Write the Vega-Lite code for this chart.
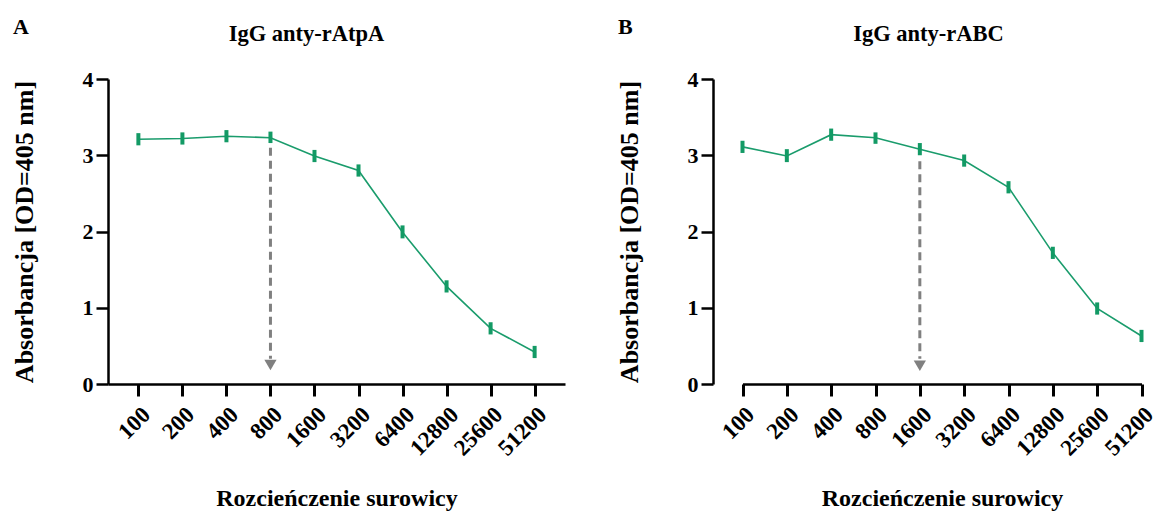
{
  "$schema": "https://vega.github.io/schema/vega-lite/v6.json",
  "padding": {"left": 10, "top": 15, "right": 0, "bottom": 0},
  "spacing": 50,
  "config": {
    "font": "Liberation Serif",
    "view": {"stroke": null},
    "axis": {
      "domainColor": "black", "domainWidth": 2.5, "tickColor": "black", "tickWidth": 2.5,
      "labelFont": "Liberation Serif", "labelFontWeight": "bold", "labelColor": "black",
      "titleFont": "Liberation Serif", "titleFontWeight": "bold", "titleColor": "black", "grid": false
    },
    "title": {"font": "Liberation Serif", "fontWeight": "bold", "color": "black"}
  },
  "datasets": {
    "A": [
      {"dil": "100", "od": 3.21, "lo": 3.13, "hi": 3.29},
      {"dil": "200", "od": 3.22, "lo": 3.14, "hi": 3.30},
      {"dil": "400", "od": 3.25, "lo": 3.17, "hi": 3.33},
      {"dil": "800", "od": 3.23, "lo": 3.16, "hi": 3.31},
      {"dil": "1600", "od": 2.99, "lo": 2.91, "hi": 3.07},
      {"dil": "3200", "od": 2.80, "lo": 2.72, "hi": 2.88},
      {"dil": "6400", "od": 1.99, "lo": 1.91, "hi": 2.08},
      {"dil": "12800", "od": 1.28, "lo": 1.20, "hi": 1.36},
      {"dil": "25600", "od": 0.73, "lo": 0.65, "hi": 0.81},
      {"dil": "51200", "od": 0.42, "lo": 0.34, "hi": 0.50}
    ],
    "B": [
      {"dil": "100", "od": 3.11, "lo": 3.03, "hi": 3.19},
      {"dil": "200", "od": 2.99, "lo": 2.91, "hi": 3.08},
      {"dil": "400", "od": 3.27, "lo": 3.19, "hi": 3.35},
      {"dil": "800", "od": 3.23, "lo": 3.15, "hi": 3.30},
      {"dil": "1600", "od": 3.08, "lo": 3.00, "hi": 3.16},
      {"dil": "3200", "od": 2.93, "lo": 2.85, "hi": 3.01},
      {"dil": "6400", "od": 2.58, "lo": 2.50, "hi": 2.66},
      {"dil": "12800", "od": 1.72, "lo": 1.64, "hi": 1.80},
      {"dil": "25600", "od": 0.99, "lo": 0.91, "hi": 1.07},
      {"dil": "51200", "od": 0.63, "lo": 0.55, "hi": 0.71}
    ],
    "arrowA": [{"dil": "800", "top": 3.1, "bottom": 0.33, "tip": 0.25}],
    "arrowB": [{"dil": "1600", "top": 2.92, "bottom": 0.33, "tip": 0.24}]
  },
  "hconcat": [
    {
      "title": {"text": "A", "anchor": "start", "fontSize": 22, "offset": -16, "dx": 2},
      "vconcat": [
        {
          "width": 457, "height": 305,
          "title": {"text": "IgG anty-rAtpA", "fontSize": 22.5, "offset": 23, "dx": -30},
          "encoding": {
            "x": {"field": "dil", "type": "ordinal",
              "scale": {"type": "point", "padding": 0.69, "domain": ["100","200","400","800","1600","3200","6400","12800","25600","51200"]},
              "axis": {"title": "Rozcieńczenie surowicy", "titleFontSize": 24, "titlePadding": 27, "labelAngle": -45, "labelFontSize": 23, "tickSize": 12, "tickWidth": 3, "labelPadding": 7}}
          },
          "layer": [
            {"data": {"name": "A"}, "mark": {"type": "line", "color": "#1a9c6c", "strokeWidth": 1.6},
              "encoding": {"y": {"field": "od", "type": "quantitative", "scale": {"domain": [0, 4]},
                "axis": {"title": "Absorbancja [OD=405 nm]", "titleFontSize": 26, "titlePadding": 45, "values": [0,1,2,3,4], "format": "d", "labelFontSize": 22, "tickSize": 12, "labelPadding": 3}}}},
            {"data": {"name": "A"}, "mark": {"type": "rule", "color": "#139a65", "strokeWidth": 4},
              "encoding": {"y": {"field": "lo", "type": "quantitative"}, "y2": {"field": "hi"}}},
            {"data": {"name": "arrowA"}, "mark": {"type": "rule", "color": "#808080", "strokeWidth": 3, "strokeDash": [8, 5]},
              "encoding": {"y": {"field": "top", "type": "quantitative"}, "y2": {"field": "bottom"}}},
            {"data": {"name": "arrowA"}, "mark": {"type": "point", "shape": "triangle-down", "filled": true, "opacity": 1, "color": "#808080", "size": 150},
              "encoding": {"y": {"field": "tip", "type": "quantitative"}}}
          ]
        }
      ]
    },
    {
      "title": {"text": "B", "anchor": "start", "fontSize": 22, "offset": -16, "dx": 2},
      "vconcat": [
        {
          "width": 447, "height": 305,
          "title": {"text": "IgG anty-rABC", "fontSize": 22.5, "offset": 23, "dx": -8},
          "encoding": {
            "x": {"field": "dil", "type": "ordinal",
              "scale": {"type": "point", "padding": 0, "range": [29.5, 428.5], "domain": ["100","200","400","800","1600","3200","6400","12800","25600","51200"]},
              "axis": {"title": "Rozcieńczenie surowicy", "titleFontSize": 24, "titlePadding": 27, "labelAngle": -45, "labelFontSize": 23, "tickSize": 12, "tickWidth": 3, "labelPadding": 7}}
          },
          "layer": [
            {"data": {"name": "B"}, "mark": {"type": "line", "color": "#1a9c6c", "strokeWidth": 1.6},
              "encoding": {"y": {"field": "od", "type": "quantitative", "scale": {"domain": [0, 4]},
                "axis": {"title": "Absorbancja [OD=405 nm]", "titleFontSize": 26, "titlePadding": 45, "values": [0,1,2,3,4], "format": "d", "labelFontSize": 22, "tickSize": 12, "labelPadding": 3}}}},
            {"data": {"name": "B"}, "mark": {"type": "rule", "color": "#139a65", "strokeWidth": 4},
              "encoding": {"y": {"field": "lo", "type": "quantitative"}, "y2": {"field": "hi"}}},
            {"data": {"name": "arrowB"}, "mark": {"type": "rule", "color": "#808080", "strokeWidth": 3, "strokeDash": [8, 5]},
              "encoding": {"y": {"field": "top", "type": "quantitative"}, "y2": {"field": "bottom"}}},
            {"data": {"name": "arrowB"}, "mark": {"type": "point", "shape": "triangle-down", "filled": true, "opacity": 1, "color": "#808080", "size": 150},
              "encoding": {"y": {"field": "tip", "type": "quantitative"}}}
          ]
        }
      ]
    }
  ]
}
